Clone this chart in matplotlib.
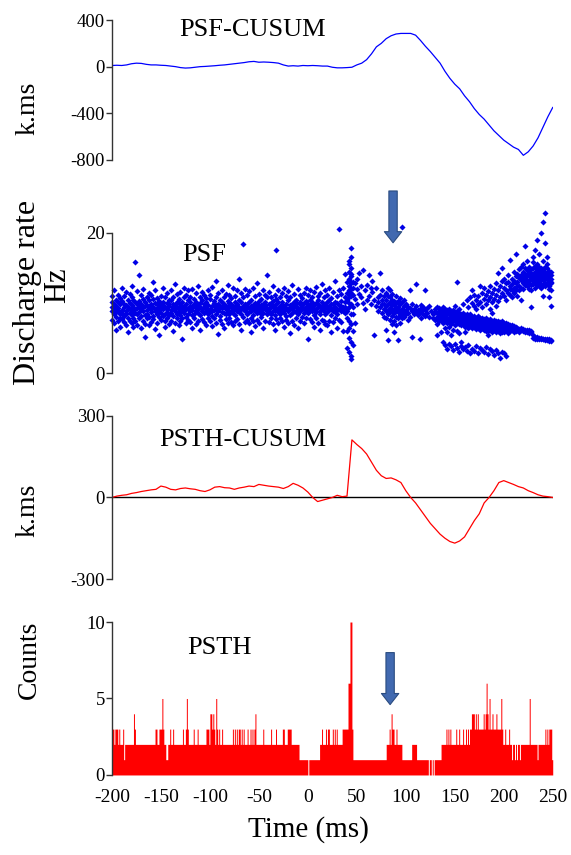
import numpy as np
import matplotlib
matplotlib.use('Agg')
import matplotlib.pyplot as plt

plt.rcParams['font.family'] = ['Liberation Serif', 'DejaVu Serif']
plt.rcParams['axes.unicode_minus'] = False

# ---- data -------------------------------------------------------------
# PSF-CUSUM (k.ms), every 5 ms from -200 to 250
cusum_t = np.arange(-200, 251, 5)
psf_cusum = [10, 12, 10, 15, 25, 30, 28, 20, 15, 15, 12, 10, 5, 0, -8, -12, -10, -5,
             0, 2, 5, 8, 12, 15, 20, 25, 30, 35, 42, 45, 38, 40, 38, 35, 30, 15, 5,
             8, 5, 10, 8, 10, 8, 5, 5, -5, -10, -10, -8, -5, 15, 30, 60, 110, 170,
             200, 240, 265, 280, 285, 285, 285, 270, 225, 175, 130, 80, 30, -40,
             -100, -150, -190, -250, -300, -360, -410, -450, -500, -550, -590,
             -630, -660, -690, -710, -760, -730, -680, -610, -520, -430, -350]

# PSTH-CUSUM (k.ms), every 5 ms from -200 to 250
psth_cusum = [0, 5, 8, 10, 15, 18, 22, 25, 28, 30, 42, 38, 30, 28, 33, 35, 32, 30,
              25, 22, 28, 38, 40, 36, 35, 30, 35, 38, 42, 40, 48, 45, 42, 40, 38,
              33, 40, 52, 45, 35, 20, 0, -15, -10, -5, 0, 8, 3, 5, 212, 195, 180,
              160, 130, 100, 80, 70, 72, 65, 55, 25, 0, -20, -45, -70, -95, -115,
              -135, -150, -162, -168, -160, -145, -115, -85, -60, -20, 0, 25, 55,
              62, 55, 48, 40, 35, 25, 18, 10, 5, 3, 0]

# PSTH counts, 1 ms bins from -200 (one hex digit per bin, a = 10)
psth_chunks = [
    "3323332322", "2312222222", "2243222222", "2222222222", "2222332233",
    "3532211223", "2232222222", "2232235322", "2223222322", "2222223332",
    "4434325323", "2232222222", "2223232323", "3232322232", "2323234222",
    "2222322222", "2232222322", "2222332223", "3332222222", "2111111111",
    "0111111111", "1122322232", "3322232323", "2222233333", "366aa31111",
    "1111111111", "1111111111", "1111111111", "2223243322", "3222221111",
    "1111112222", "2111111111", "1110110101", "1111112222", "2323232222",
    "2322322232", "2323233444", "3434333334", "3464353343", "3343333532",
    "2322232212", "2121221222", "2222225222", "2222122222", "2232323331",
]
psth_counts = [int(c, 16) for c in ''.join(psth_chunks)]

# PSF: instantaneous discharge rate (tenths of Hz), one column per 2 ms from -200
psf_times = np.arange(-200, 250, 2)
psf_rows = [
    "95 88 102 76 110|91 84 99 118 71|87 96 105 80 62|93 89 112 74 101|98 85 79 107 66|90 103 86 121 77|94 82 99 110 73|88 97 84 116 69|92 105 78 95 58|86 100 91 113 75",
    "97 83 108 72 124|89 95 104 78 66|91 86 159 101 74|99 84 93 117 69|103 87 140 79 95|92 98 81 112 64|88 106 94 75 120|96 83 101 70 52|90 109 85 97 78|94 80 104 115 68",
    "87 99 92 111 73|95 82 106 77 130|91 88 100 118 63|98 84 93 72 107|89 103 96 80 55|93 86 110 76 99|97 81 102 91 121|85 94 108 74 66|92 100 87 115 79|96 83 98 70 104",
    "90 105 86 119 75|94 81 99 109 60|88 97 92 127 72|101 84 95 78 113|93 89 106 68 100|87 98 83 116 74|95 102 90 79 48|89 86 108 96 122|98 80 93 111 71|92 104 85 76 118",
    "96 88 101 73 109|90 94 83 120 65|99 85 106 78 97|93 102 89 114 70|86 97 92 75 125|100 83 95 108 62|91 89 104 77 116|95 99 86 112 73|88 93 101 69 107|97 84 90 118 79",
    "92 106 87 74 111|89 96 81 123 67|98 90 103 78 100|94 85 109 72 131|90 99 88 115 56|96 82 105 76 94|87 101 93 119 70|99 86 97 108 64|91 95 84 113 77|93 103 89 71 126",
    "97 84 100 79 112|88 94 107 73 99|95 90 86 121 68|101 83 96 110 75|89 98 92 77 118|94 87 105 70 135|92 102 85 115 62|184 96 91 80 109|90 88 99 73 120|98 85 94 112 76",
    "93 101 87 117 71|96 89 104 78 59|91 97 83 122 74|88 94 100 110 67|99 86 92 76 128|95 103 88 113 72|90 84 97 106 80|94 99 86 119 65|97 91 102 75 111|89 93 85 108 140",
    "92 98 87 116 73|100 85 94 79 109|88 96 103 70 124|95 90 83 112 61|176 99 92 77 106|91 87 101 118 72|96 84 93 108 78|89 102 97 74 115|94 86 90 121 66|98 93 82 110 76",
    "90 104 88 117 72|97 83 95 109 57|92 99 86 75 126|101 89 94 113 69|87 96 105 78 100|93 85 91 120 64|99 102 88 74 111|91 94 97 107 80|86 100 92 115 71|95 89 103 78 122",
    "93 86 99 112 48|97 104 90 77 119|88 95 101 73 108|92 83 97 116 66|100 91 87 123 79|94 98 105 71 110|89 85 96 114 62|96 102 92 76 127|91 97 88 109 74|99 84 93 118 70",
    "95 101 87 112 68|90 96 104 75 121|98 83 92 107 58|93 99 88 116 73|87 94 102 79 132|100 90 85 110 64|92 206 97 118 76|96 88 103 73 113|89 95 91 122 60|94 102 86 109 141",
    "92 78 104 60 115 88 36 130|100 125 112 155 75 30 108 135 95 65 145 118 50 160|120 150 45 130 138 70 178 25 98 110 142 128 85 20 115 165|95 130 60 85 112 40 122|106 72 128|120 98 135|113 143|108 125|100 147|118 92",
    "126 105|140 110|98 122|116 131|104 55|121 96|102 108 88|95 112 143|86 104 118 99|92 110 98 80",
    "96 104 88 115 79 62|90 110 99 84 122 47|101 93 87 108 76 118|97 105 90 82 113 70|92 99 86 103 75 58|100 89 95 110 80 68|94 87 103 78 92 47|89 98 83 107 72|92 85 101 78 209|96 88 80 104",
    "90 84 98|86 95 76|93 80 118|88 99 52|92 84|96 87 127|83 90|91 86 48|88 97 79|95 84",
    "90 82 119|86 93|80 96|88|84 78|91 76 87|86 80 95 70 55|88 79 93 74 84|82 90 76 86 58|89 78 84 94 72 45",
    "87 80 92 75 83 40 64|84 90 77 86 71 35 58|88 79 85 73 92 42 66|81 86 76 89 70 38 55|85 78 90 74 82 33 62|80 87 75 84 69 41 96|83 77 88 72 79 36 60 130|86 74 81 70 91 30 57|78 84 72 80 68 39 44|82 75 86 70 77 34 98",
    "76 83 71 79 66 37 59|80 73 85 68 76 32 104|74 81 70 78 65 40 95|79 72 84 67 75 29 108|73 80 69 77 64 35 100 118|77 71 82 66 74 31 96 112|72 79 68 76 63 38 104 92|75 70 81 65 73 28 110 99|71 78 67 74 62 36 102 125|74 69 79 64 72 33 115 95",
    "70 77 66 73 61 30 106 121|73 68 78 63 71 37 112 98 60|69 76 65 72 60 27 117 104 55|72 67 77 62 70 34 108 125 92|68 75 64 71 59 31 114 101 86|71 66 76 61 69 26 120 106|67 74 63 70 58 33 111 129 96|70 65 75 60 68 29 118 103 143|66 73 62 69 57 22 124 108|69 64 74 59 67 30 115 132 150",
    "68 63 72 58 122 110 135 28|65 71 61 66 118 128 105 25|67 62 70 57 130 115 140|64 69 60 112 125 120 161|66 61 68 127 118 135 108|63 67 58 121 132 114 145|65 60 66 128 119 138 170|62 64 130 124 110 142|63 59 125 136 118 148|61 65 133 121 140 152 105",
    "60 63 128 138 120 145 135 155|62 58 135 142 126 150 131 182|59 61 140 130 147 125 138 160|61 57 133 145 128 152 120 140|58 60 138 126 148 135 143 119 95|55 50 142 131 150 127 139 158 165|52 49 136 145 129 153 140 122 175|51 48 141 133 148 126 137 156 190|50 49 130 146 138 152 125 143 170|50 48 139 127 150 134 145 121 200",
    "49 48 133 148 126 141 137 160 215 110|48 47 140 129 152 136 144 124 228 185|49 47 135 150 128 143 138 155 165|48 46 142 131 146 125 139 120 108|47 46 130 145 135 128 140 118 96",
]

# arrows: (time, start, end)
psf_arrow = (87, 26.0, 18.6)
psth_arrow = (84, 8.0, 4.6)

# ---- figure -----------------------------------------------------------
fig = plt.figure(figsize=(5.71, 8.55), dpi=100)
left, width = 0.196, 0.772
ax1 = fig.add_axes([left, 0.8129, width, 0.1637])
ax2 = fig.add_axes([left, 0.5637, width, 0.1638])
ax3 = fig.add_axes([left, 0.3228, width, 0.1907])
ax4 = fig.add_axes([left, 0.0936, width, 0.1789])

spine_col = '#333333'
for ax in (ax1, ax2, ax3, ax4):
    ax.set_xlim(-200, 250)
    for s in ('top', 'right', 'bottom'):
        ax.spines[s].set_visible(False)
    ax.spines['left'].set_color(spine_col)
    ax.spines['left'].set_linewidth(1.0)
    ax.tick_params(axis='y', direction='out', length=4, width=1, color=spine_col,
                   labelsize=13.5, pad=1)
    ax.tick_params(axis='x', length=0, labelsize=14, pad=10)
    ax.set_xticks([])

# PSF-CUSUM
ax1.plot(cusum_t, psf_cusum, color='#0000ff', lw=0.9)
ax1.set_ylim(-800, 400)
ax1.set_yticks([400, 0, -400, -800])
ax1.text(0.32, 0.93, 'PSF-CUSUM', transform=ax1.transAxes, fontsize=19,
         ha='center', va='center')

# PSF scatter
px, py = [], []
cols = '|'.join(psf_rows).split('|')
for t, col in zip(psf_times, cols):
    for v in col.split():
        px.append(t)
        py.append(int(v) / 10)
ax2.plot(px, py, 'D', ms=3.1, mew=0, color='#0000e6', clip_on=False)
ax2.set_ylim(0, 20)
ax2.set_yticks([0, 20])
ax2.text(0.21, 0.84, 'PSF', transform=ax2.transAxes, fontsize=19,
         ha='center', va='center')

# PSTH-CUSUM
ax3.axhline(0, color='black', lw=1.0, xmin=0, xmax=1)
ax3.plot(cusum_t, psth_cusum, color='#ff0000', lw=0.9)
ax3.set_ylim(-300, 300)
ax3.set_yticks([-300, 0, 300])
ax3.text(0.298, 0.85, 'PSTH-CUSUM', transform=ax3.transAxes, fontsize=19,
         ha='center', va='center')

# PSTH
edges = -200 + np.arange(len(psth_counts) + 1)
ax4.fill_between(edges, psth_counts + [psth_counts[-1]], step='post',
                 color='#ff0000', lw=0)
ax4.set_ylim(0, 10)
ax4.set_yticks([0, 5, 10])
ax4.set_xticks(np.arange(-200, 251, 50))
ax4.text(0.245, 0.83, 'PSTH', transform=ax4.transAxes, fontsize=19,
         ha='center', va='center')

for ax, (t, y0, y1) in ((ax2, psf_arrow), (ax4, psth_arrow)):
    ax.annotate('', xy=(t, y1), xytext=(t, y0), annotation_clip=False,
                arrowprops=dict(arrowstyle='simple,head_length=0.8,head_width=1.25,tail_width=0.6',
                                mutation_scale=10, fc='#4169b0', ec='#2b4c80', lw=0.8,
                                shrinkA=0, shrinkB=0))

# axis labels
fig.text(0.049, 1 - 108 / 855, 'k.ms', rotation=90, fontsize=20, ha='center', va='center')
fig.text(0.048, 1 - 292 / 855, 'Discharge rate', rotation=90, fontsize=23, ha='center', va='center')
fig.text(0.101, 1 - 285 / 855, 'Hz', rotation=90, fontsize=22, ha='center', va='center')
fig.text(0.049, 1 - 510 / 855, 'k.ms', rotation=90, fontsize=20, ha='center', va='center')
fig.text(0.052, 1 - 660 / 855, 'Counts', rotation=90, fontsize=20, ha='center', va='center')
fig.text(0.54, 1 - 830 / 855, 'Time (ms)', fontsize=21, ha='center', va='center')

fig.savefig('out.png', dpi=100)
